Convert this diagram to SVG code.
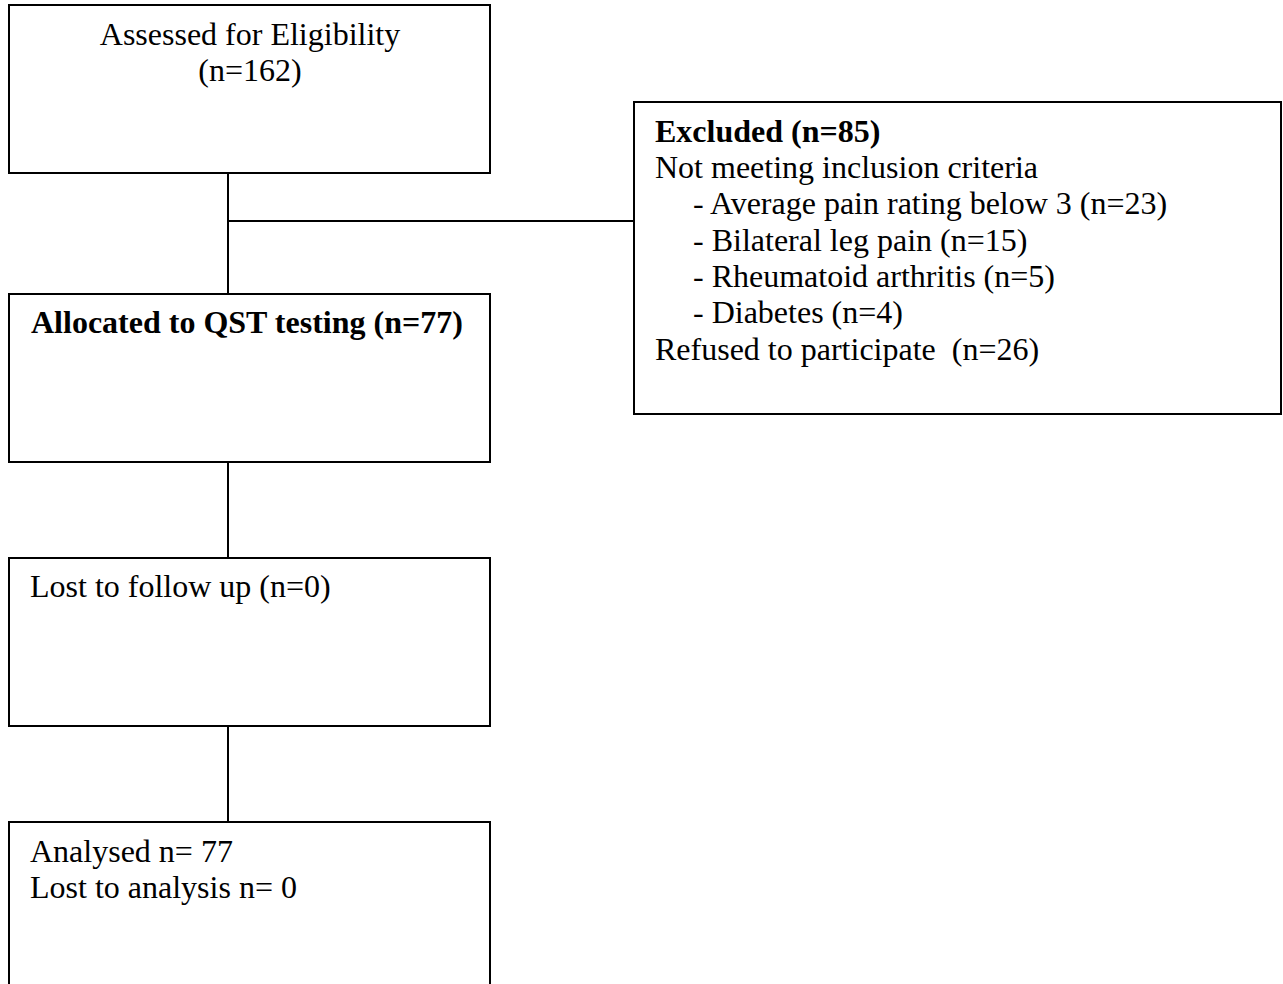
<svg xmlns="http://www.w3.org/2000/svg" width="1283" height="984" viewBox="0 0 1283 984">
<style>
.box{fill:#fff;stroke:#000;stroke-width:2}
.ln{stroke:#000;stroke-width:2;fill:none}
text{font-family:"Liberation Serif","Times New Roman",serif;font-size:32px;fill:#000;white-space:pre}
.b{font-weight:bold}
</style>
<rect width="1283" height="984" fill="#fff"/>
<g id="connectors">
<line class="ln" x1="228" y1="173" x2="228" y2="294"/>
<line class="ln" x1="228" y1="221" x2="634" y2="221"/>
<line class="ln" x1="228" y1="462" x2="228" y2="558"/>
<line class="ln" x1="228" y1="726" x2="228" y2="822"/>
</g>
<g id="assessed">
<rect class="box" x="9" y="5" width="481" height="168"/>
<text x="250" y="45" text-anchor="middle">Assessed for Eligibility</text>
<text x="250" y="81" text-anchor="middle">(n=162)</text>
</g>
<g id="excluded">
<rect class="box" x="634" y="102" width="647" height="312"/>
<text class="b" x="655" y="142">Excluded (n=85)</text>
<text x="655" y="178">Not meeting inclusion criteria</text>
<text x="693" y="214">- Average pain rating below 3 (n=23)</text>
<text x="693" y="251">- Bilateral leg pain (n=15)</text>
<text x="693" y="287">- Rheumatoid arthritis (n=5)</text>
<text x="693" y="323">- Diabetes (n=4)</text>
<text x="655" y="360" xml:space="preserve">Refused to participate  (n=26)</text>
</g>
<g id="allocated">
<rect class="box" x="9" y="294" width="481" height="168"/>
<text class="b" x="31" y="333">Allocated to QST testing (n=77)</text>
</g>
<g id="lost-follow-up">
<rect class="box" x="9" y="558" width="481" height="168"/>
<text x="30" y="597">Lost to follow up (n=0)</text>
</g>
<g id="analysed">
<rect class="box" x="9" y="822" width="481" height="180"/>
<text x="30" y="862">Analysed n= 77</text>
<text x="30" y="898">Lost to analysis n= 0</text>
</g>
</svg>
